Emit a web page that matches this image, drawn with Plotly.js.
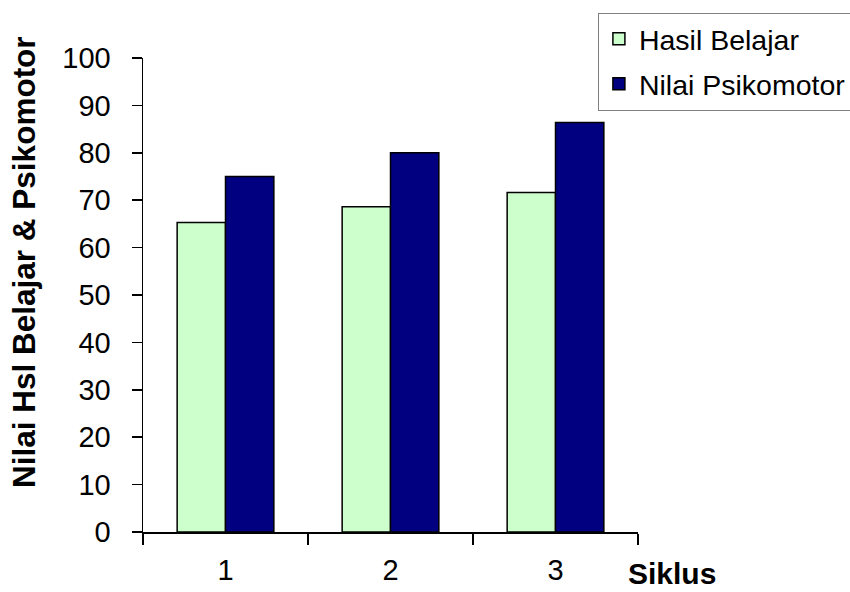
<!DOCTYPE html>
<html>
<head>
<meta charset="utf-8">
<script src="https://cdn.plot.ly/plotly-3.0.1.min.js"></script>
<style>html,body{margin:0;padding:0;background:#fff;}#chart{width:850px;height:592px;}</style>
</head>
<body>
<div id="chart"></div>
<script>
const categories = ["1", "2", "3"];
const hasilBelajar = [65.3, 68.6, 71.6];
const nilaiPsikomotor = [75.0, 80.0, 86.4];
const seriesNames = ["Hasil Belajar", "Nilai Psikomotor"];
const yTicks = [0, 10, 20, 30, 40, 50, 60, 70, 80, 90, 100];

const FONT = "Liberation Sans, Arial, sans-serif";

const traces = [
  {type: "bar", name: seriesNames[0], x: categories, y: hasilBelajar, legendgroup: "g1",
   marker: {color: "#CCFFCC", line: {color: "#000000", width: 1.5}}, hoverinfo: "none"},
  {type: "bar", name: seriesNames[1], x: categories, y: nilaiPsikomotor, legendgroup: "g2",
   marker: {color: "#000080", line: {color: "#000000", width: 1.5}}, hoverinfo: "none"}
];

const layout = {
  width: 850, height: 592,
  margin: {l: 143, r: 212, t: 58, b: 60, pad: 0, autoexpand: false},
  paper_bgcolor: "#ffffff", plot_bgcolor: "#ffffff",
  font: {family: FONT, color: "#000000", size: 28},
  barmode: "group",
  bargap: 0.414,
  bargroupgap: 0,
  showlegend: true,
  legend: {
    x: 0.919, y: 1.0957, xanchor: "left", yanchor: "top",
    bordercolor: "#808080", borderwidth: 1, bgcolor: "#ffffff",
    font: {family: FONT, size: 28.5, color: "#000000"},
    traceorder: "grouped",
    tracegroupgap: 5
  },
  xaxis: {
    type: "category",
    showline: true, linecolor: "#000000", linewidth: 1.5,
    ticks: "outside", tickson: "boundaries", ticklen: 11, tickcolor: "#000000", tickwidth: 1.5,
    tickfont: {family: FONT, size: 29},
    ticklabelstandoff: 12,
    showgrid: false, zeroline: false, fixedrange: true
  },
  yaxis: {
    range: [0, 100],
    tickvals: yTicks,
    showline: true, linecolor: "#000000", linewidth: 1.5,
    ticks: "outside", ticklen: 10, tickcolor: "#000000", tickwidth: 1.5,
    tickfont: {family: FONT, size: 29},
    ticklabelstandoff: 15,
    showgrid: false, zeroline: false, fixedrange: true
  },
  annotations: [
    {text: "<b>Siklus</b>", xref: "paper", yref: "paper", x: 1.069, y: -0.088,
     xanchor: "center", yanchor: "middle", showarrow: false,
     font: {family: FONT, size: 30, color: "#000000"}},
    {text: "<b>Nilai Hsl Belajar & Psikomotor</b>", xref: "paper", yref: "paper", x: -0.24, y: 0.57,
     xanchor: "center", yanchor: "middle", showarrow: false, textangle: -90,
     font: {family: FONT, size: 31.5, color: "#000000"}}
  ]
};

Plotly.newPlot("chart", traces, layout, {staticPlot: true, displayModeBar: false});
</script>
</body>
</html>
